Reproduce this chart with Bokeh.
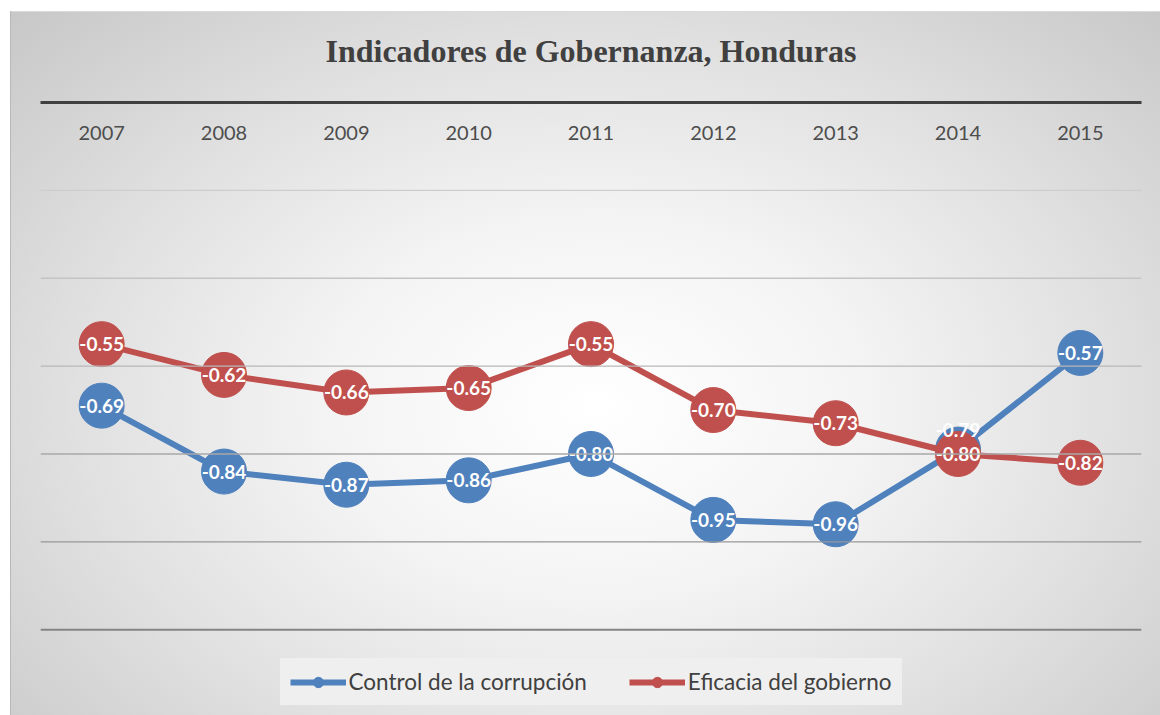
from bokeh.plotting import figure
from bokeh.models import Range1d, FactorRange, Legend, LegendItem, ColumnDataSource, Span
from bokeh.embed import file_html
from bokeh.resources import INLINE
from bokeh.core.properties import value

# ---- data ----
years = ["2007", "2008", "2009", "2010", "2011", "2012", "2013", "2014", "2015"]
control = [-0.69, -0.84, -0.87, -0.86, -0.80, -0.95, -0.96, -0.79, -0.57]
eficacia = [-0.55, -0.62, -0.66, -0.65, -0.55, -0.70, -0.73, -0.80, -0.82]
series_names = ["Control de la corrupción", "Eficacia del gobierno"]
y_ticks = [-1.2, -1.0, -0.8, -0.6, -0.4, -0.2]
title_text = "Indicadores de Gobernanza, Honduras"

colors = ["#4f81bd", "#c0504d"]
grid_colors = ["#858585", "#979797", "#a9a9a9", "#b7b7b7", "#c4c4c4", "#cdcdcd"]

# frame spans from the zero line down to the bottom of the chart area;
# the legend sits inside it, under the -1.2 line
p = figure(width=1150, height=719,
           x_range=FactorRange(*years), y_range=Range1d(-1.3907, 0),
           x_axis_location="above", y_axis_location=None,
           output_backend="svg", toolbar_location=None,
           min_border_left=30, min_border_right=19,
           min_border_top=104, min_border_bottom=2)

p.styles = {
    "margin-left": "10px",
    "margin-top": "-4px",
    "background": ("linear-gradient(#ffffff, #ffffff) 0 0 / 100% 15px no-repeat, "
                   "linear-gradient(#b8b8b8, #b8b8b8) 0 15px / 1px 100% no-repeat, "
                   "linear-gradient(#dadada, #dadada) 0 15px / 100% 1px no-repeat, "
                   "radial-gradient(ellipse farthest-corner at 51% 57%, #ffffff 0%, #f4f4f4 32%, #e1e1e1 62%, #c6c6c6 100%)"),
}
p.border_fill_alpha = 0
p.background_fill_alpha = 0
p.outline_line_color = None

p.title.text = title_text
p.title.align = "center"
p.title.text_font = "Liberation Serif"
p.title.text_font_style = "bold"
p.title.text_font_size = "32px"
p.title.text_color = "#404040"
p.title.standoff = 68

ax = p.xaxis[0]
ax.axis_line_color = "#404040"
ax.axis_line_width = 3
ax.major_tick_line_color = None
ax.minor_tick_line_color = None
ax.major_label_standoff = -43
ax.major_label_text_font = "Lato"
ax.major_label_text_font_size = "20px"
ax.major_label_text_color = "#4d4d4d"

p.xgrid.visible = False
p.ygrid.visible = False
for t, c in zip(y_ticks, grid_colors):
    p.add_layout(Span(location=t, dimension="width", line_color=c,
                      line_width=2 if t == y_ticks[0] else 1.3))

items = []
srcs = []
for name, vals, col in zip(series_names, [control, eficacia], colors):
    src = ColumnDataSource(dict(x=years, y=vals, lab=["%.2f" % v for v in vals]))
    srcs.append(src)
    r1 = p.line("x", "y", source=src, line_color=col, line_width=6)
    r2 = p.scatter("x", "y", source=src, size=45, fill_color=col, line_color=col)
    items.append(LegendItem(label=name, renderers=[r1, r2]))

# label offset where the two series nearly coincide
offs = [-20 if abs(a - b) < 0.03 else 0 for a, b in zip(control, eficacia)]
srcs[0].data["off"] = offs
srcs[1].data["off"] = [0] * len(years)
for src in srcs:
    p.text("x", "y", text="lab", source=src, y_offset="off",
           text_align="center", text_baseline="middle",
           text_color="white", text_font=value("Lato"),
           text_font_style="bold", text_font_size="19px")

leg = Legend(items=items, orientation="horizontal", location="bottom_center",
             label_text_font="Lato", label_text_font_size="22.5px",
             label_text_color="#404040",
             glyph_width=56, glyph_height=26, label_height=26,
             label_standoff=3, spacing=42, padding=0, margin=8,
             background_fill_color="#efefef", background_fill_alpha=1.0,
             border_line_color="#efefef", border_line_width=10.5,
             border_line_alpha=1.0)
p.add_layout(leg)

open("out.html", "w").write(file_html(p, INLINE))
